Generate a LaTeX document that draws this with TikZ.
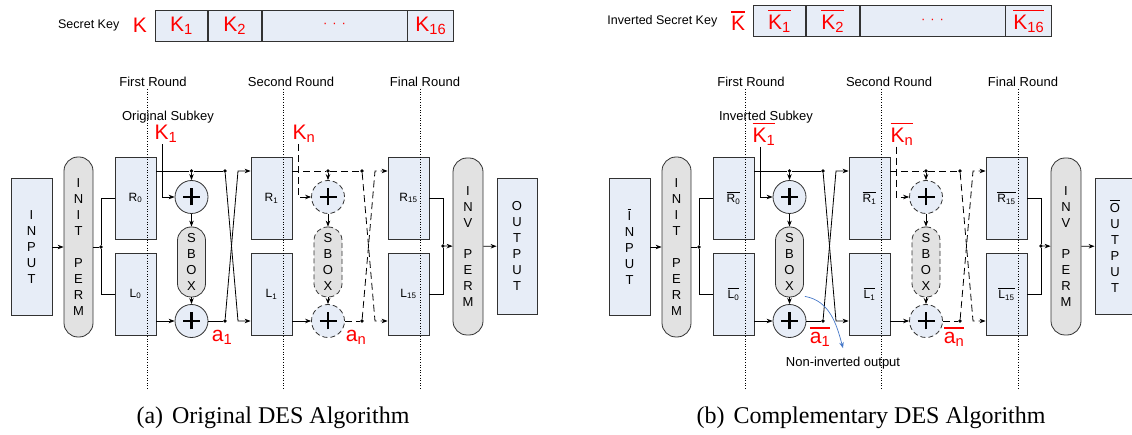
\documentclass[tikz,border=0pt]{standalone}
\usepackage{fontspec}
\setmainfont{Liberation Sans}
\newfontfamily\capfont{Liberation Serif}
\usetikzlibrary{arrows.meta}

\definecolor{boxfill}{RGB}{231,237,247}
\definecolor{permfill}{RGB}{226,226,226}
\definecolor{edge}{RGB}{50,50,50}
\definecolor{noteblue}{RGB}{70,120,200}

% bar over a label (complemented values)
\def\ovl#1{\leavevmode\vbox{\hrule height .08em\kern .15em\hbox{#1}}}

\begin{document}
\begin{tikzpicture}[
  x=1pt,y=-1pt,
  line width=0.8pt,
  >={Stealth[length=6pt,width=4.5pt]},
  font=\fontsize{13}{16}\selectfont,
  reg/.style={rectangle,draw=edge,fill=boxfill,inner sep=0pt,minimum width=41pt,minimum height=82pt,font=\fontsize{12}{14}\selectfont},
  io/.style={rectangle,draw=edge,fill=boxfill,inner sep=0pt,minimum width=41pt,minimum height=137pt,align=center,font=\fontsize{13}{16}\selectfont},
  perm/.style={rectangle,rounded corners=14pt,draw=edge,fill=permfill,inner sep=0pt,minimum width=29pt,align=center,font=\fontsize{13}{15.9}\selectfont},
  sbox/.style={rectangle,rounded corners=13.5pt,draw=edge,fill=permfill,inner sep=0pt,minimum width=28pt,minimum height=70pt,align=center,font=\fontsize{13}{16}\selectfont},
  xor/.style={circle,draw=edge,fill=boxfill,minimum size=33pt,inner sep=0pt,
    path picture={\draw[solid,black,line width=2.9pt]
      ([xshift=-8.5pt]path picture bounding box.center) -- ([xshift=8.5pt]path picture bounding box.center)
      ([yshift=-8.5pt]path picture bounding box.center) -- ([yshift=8.5pt]path picture bounding box.center);}},
  dot/.style={circle,fill=black,inner sep=0pt,minimum size=3.6pt},
  keycell/.style={rectangle,draw=edge,fill=boxfill,inner sep=0pt,minimum height=31pt,text=red,font=\fontsize{21}{21}\selectfont},
  redlbl/.style={text=red,inner sep=1pt,font=\fontsize{21}{21}\selectfont},
  dwire/.style={dash pattern=on 7pt off 4pt},
  dring/.style={dash pattern=on 5pt off 3pt},
  cut/.style={line width=0.6pt,dash pattern=on 1pt off 1.6pt}
]

\useasboundingbox (0,0) rectangle (1132,435);

% one DES data path: #1 key name, #2 subkey name, #3 caption, #4 height of the key row
\def\deshalf#1#2#3#4{
  \node[anchor=east,font=\fontsize{12.5}{15}\selectfont] (keyname) at (123,#4) {#1};
  \node[redlbl] (kk) at (140,#4) {\iv{K}};
  \node[keycell,minimum width=52pt,anchor=west] (kb1) at (155,#4) {\iv{K\textsubscript{1}}};
  \node[keycell,minimum width=53pt,anchor=west] (kb2) at (kb1.east) {\iv{K\textsubscript{2}}};
  \node[keycell,minimum width=145pt,anchor=west] (kb3) at (kb2.east) {\fontsize{13}{13}\selectfont ·\hspace{5pt}·\hspace{5pt}·};
  \node[keycell,minimum width=46pt,anchor=west] (kb4) at (kb3.east) {\iv{K\textsubscript{16}}};

  \node (t1) at (153,82) {First Round};
  \node (t2) at (291,82) {Second Round};
  \node (t3) at (425,82) {Final Round};
  \node (sub) at (168,117) {#2};

  \node[io] (in) at (31.5,247) {\iv{I}\\N\\P\\U\\T};
  \node[perm,minimum height=180pt] (ip) at (78.5,247) {I\\N\\I\\T\\[15.9pt]P\\E\\R\\M};
  \node[reg] (R0) at (135.5,198) {\iv{R\textsubscript{0}}};
  \node[reg] (L0) at (135.5,294) {\iv{L\textsubscript{0}}};
  \node[xor] (x1) at (191.5,197) {};
  \node[sbox] (s1) at (191.5,262) {S\\B\\O\\X};
  \node[xor] (x2) at (191.5,321) {};
  \node[reg] (R1) at (271.5,198) {\iv{R\textsubscript{1}}};
  \node[reg] (L1) at (271.5,294) {\iv{L\textsubscript{1}}};
  \node[xor,dring] (x3) at (328,197) {};
  \node[sbox,dring] (s2) at (328,262) {S\\B\\O\\X};
  \node[xor,dring] (x4) at (328,321) {};
  \node[reg] (R15) at (408.5,198) {\iv{R\textsubscript{15}}};
  \node[reg] (L15) at (408.5,294) {\iv{L\textsubscript{15}}};
  \node[perm,minimum width=30pt,minimum height=177pt] (op) at (468,246.5) {I\\N\\V\\[16pt]P\\E\\R\\M};
  \node[io,minimum width=40pt,minimum height=136pt] (out) at (517,246) {\iv{O}\\U\\T\\P\\U\\T};

  \node[redlbl] (k1) at (166,134) {\iv{K\textsubscript{1}}};
  \node[redlbl] (kn) at (304,134) {\iv{K\textsubscript{n}}};
  \node[redlbl] (a1) at (222,337) {\iv{a\textsubscript{1}}};
  \node[redlbl] (an) at (356,337) {\iv{a\textsubscript{n}}};

  \node[dot] (jin) at (101,247) {};
  \node[dot] (jt1) at (191.5,171) {};
  \node[dot] (jc1) at (225,171) {};
  \node[dot] (jb1) at (225,321) {};
  \node[dot] (jt2) at (328,171) {};
  \node[dot] (jc2) at (362,171) {};
  \node[dot] (jb2) at (362,321) {};
  \node[dot] (jout) at (443,246) {};

  % initial permutation and split
  \draw[->] (in) -- (ip);
  \draw (ip) -- (jin);
  \draw (jin) |- (R0);
  \draw (jin) |- (L0);

  % first round
  \draw (R0.east |- jt1) -- (jt1) -- (jc1);
  \draw[->] (jt1) -- (x1);
  \draw[->] ([xshift=-4pt]k1.south) |- (x1);
  \draw[->] (x1) -- (s1);
  \draw[->] (s1) -- (x2);
  \draw[->] (L0.east |- x2) -- (x2);
  \draw (x2) -- (jb1);
  \draw[->] (jc1) -- ++(13,150) -- (L1.west |- jb1);
  \draw[->] (jb1) -- ++(13,-150) -- (R1.west |- jc1);

  % second round
  \draw[dwire] (R1.east |- jt2) -- (jt2) -- (jc2);
  \draw[->] (jt2) -- (x3);
  \draw[dwire,->] ([xshift=-6pt]kn.south) |- (x3);
  \draw[->] (x3) -- (s2);
  \draw[->] (s2) -- (x4);
  \draw[->] (L1.east |- x4) -- (x4);
  \draw[dwire] (x4) -- (jb2);
  \draw[dwire,->] (jc2) -- ++(13,150) -- (L15.west |- jb2);
  \draw[dwire,->] (jb2) -- ++(13,-150) -- (R15.west |- jc2);

  % final permutation
  \draw (R15) -| (jout) |- (L15);
  \draw[->] (jout) -- (op);
  \draw[->] (op) -- (out);

  \foreach \cx in {147,283,420}
    \draw[cut] (\cx,89) -- (\cx,390);

  \node[font=\capfont\fontsize{24}{28}\selectfont] (cap) at (273,418) {#3};
}

\begin{scope}[name prefix=a-]
  \def\iv#1{#1}
  \deshalf{Secret Key}{Original Subkey}{(a)\hspace{3pt} Original DES Algorithm}{25.5}
\end{scope}

\begin{scope}[xshift=598pt,name prefix=b-]
  \def\iv#1{\ovl{#1}}
  \deshalf{Inverted Secret Key}{Inverted Subkey}{(b)\hspace{3pt} Complementary DES Algorithm}{21}
  \node (note) at (245,363) {Non-inverted output};
  \draw[->,noteblue,line width=0.7pt] ([xshift=1pt,yshift=1pt]s1.south east) to[out=-10,in=105] ([yshift=5pt]note.north);
\end{scope}

\end{tikzpicture}
\end{document}
